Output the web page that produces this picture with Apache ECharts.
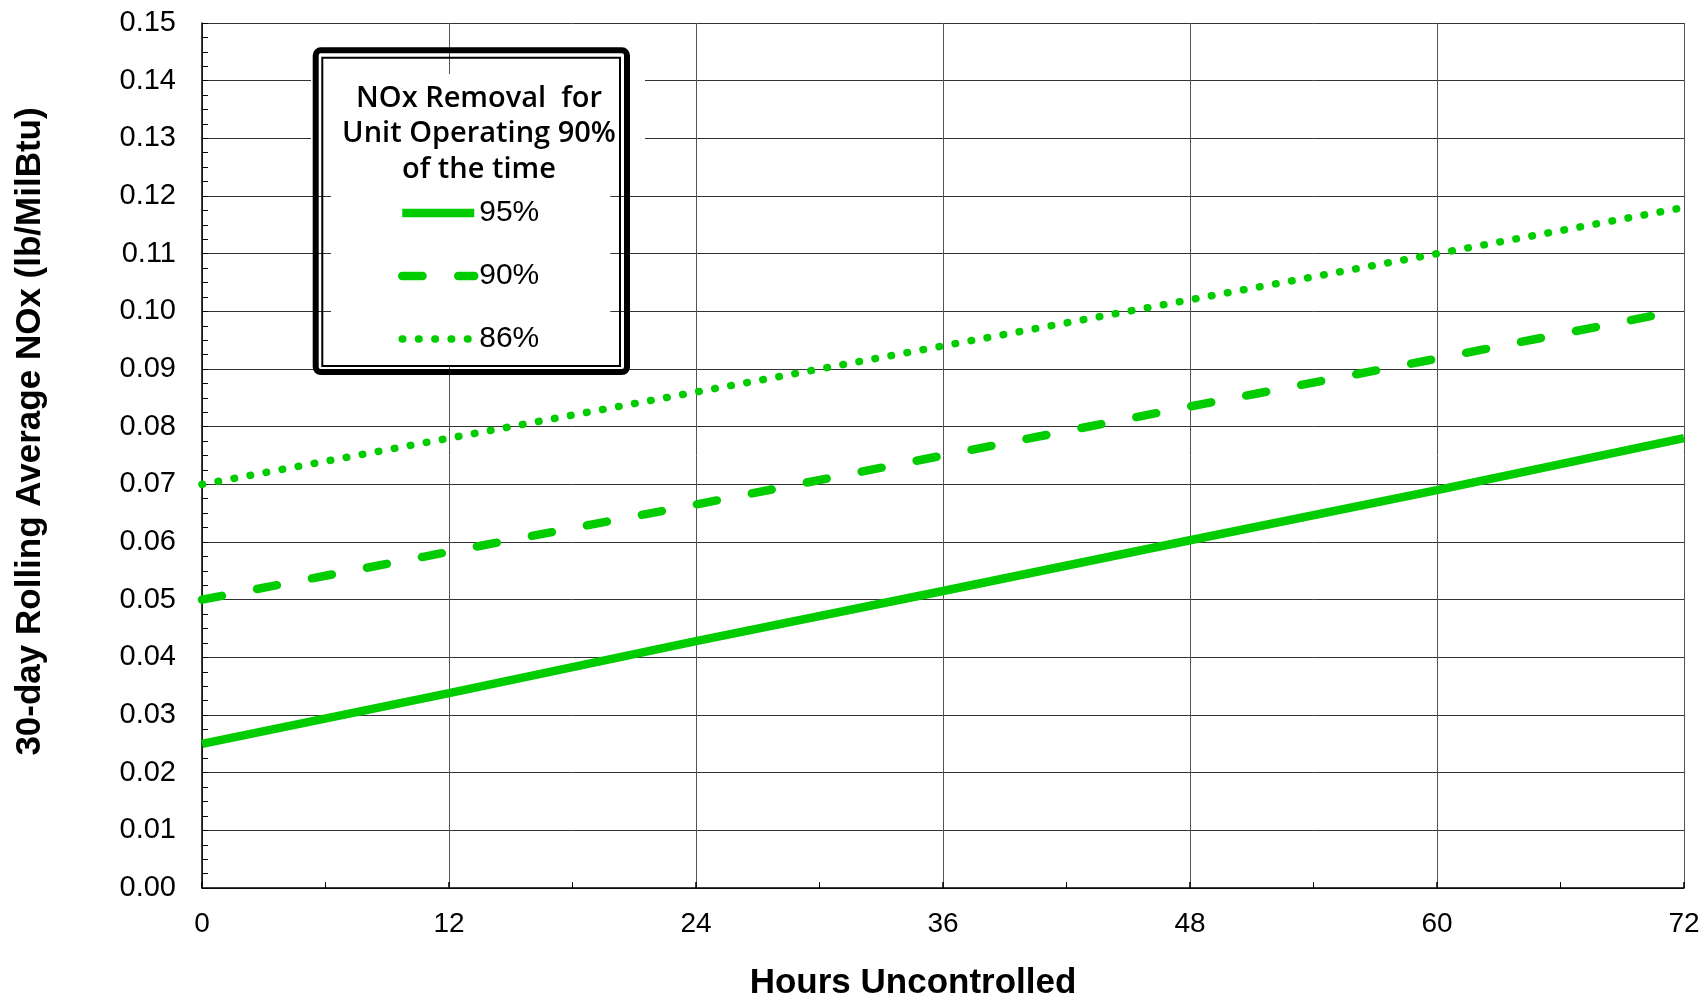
<!DOCTYPE html>
<html>
<head>
<meta charset="utf-8">
<script src="https://cdn.jsdelivr.net/npm/echarts@6/dist/echarts.min.js"></script>
<style>
html,body{margin:0;padding:0;background:#fff;}
#c{width:1706px;height:1006px;}
</style>
</head>
<body>
<div id="c"></div>
<script>
// Data
var hours = [0, 12, 24, 36, 48, 60, 72];
var removal95 = [0.0250, 0.0338, 0.0428, 0.0515, 0.0603, 0.0690, 0.0780];
var removal90 = [0.0500, 0.0583, 0.0665, 0.0750, 0.0835, 0.0918, 0.1003];
var removal86 = [0.0700, 0.0780, 0.0860, 0.0940, 0.1020, 0.1100, 0.1180];
var seriesNames = ['95%', '90%', '86%'];
var legendTitle = ['NOx Removal  for', 'Unit Operating 90%', 'of the time'];
var xTitle = 'Hours Uncontrolled';
var yTitle = '30-day Rolling Average NOx (lb/MilBtu)';

function pairs(xs, ys){ return xs.map(function(x,i){ return [x, ys[i]]; }); }

var green = '#00CC00';
var dashPattern = [20.3, 35.7];
var dotPattern = [0.5, 15.8];
var chart = echarts.init(document.getElementById('c'));
chart.setOption({
  backgroundColor: '#fff',
  animation: false,
  grid: { left: 202, right: 22, top: 23, bottom: 114, containLabel: false },
  xAxis: {
    type: 'value', min: 0, max: 72, interval: 12,
    name: xTitle, nameLocation: 'middle', nameGap: 78,
    nameTextStyle: { fontFamily: 'Liberation Sans, Arial, sans-serif', fontWeight: 'bold', fontSize: 35, color: '#000', padding: [0, 60, 0, 0] },
    axisLine: { show: true, lineStyle: { color: '#000', width: 1.5 } },
    axisTick: { show: true, inside: true, length: 6, lineStyle: { color: '#000', width: 1.5 } },
    minorTick: { show: true, splitNumber: 2, length: 6, lineStyle: { color: '#000', width: 1 } },
    axisLabel: { margin: 22, fontFamily: 'Liberation Sans, Arial, sans-serif', fontSize: 28, color: '#000' },
    splitLine: { show: true, lineStyle: { color: '#555', width: 1 } }
  },
  yAxis: {
    type: 'value', min: 0, max: 0.15, interval: 0.01,
    name: yTitle, nameLocation: 'middle', nameGap: 154, nameRotate: 90,
    nameTextStyle: { fontFamily: 'Liberation Sans, Arial, sans-serif', fontWeight: 'bold', fontSize: 35, color: '#000', padding: [0, 0, 0, 48] },
    axisLine: { show: true, lineStyle: { color: '#000', width: 1.5 } },
    axisTick: { show: true, inside: true, length: 6, lineStyle: { color: '#000', width: 1 } },
    minorTick: { show: true, splitNumber: 4, length: 6, lineStyle: { color: '#000', width: 1 } },
    axisLabel: { margin: 26, fontFamily: 'Liberation Sans, Arial, sans-serif', fontSize: 29, color: '#000',
      formatter: function(v){ return v.toFixed(2); } },
    splitLine: { show: true, lineStyle: { color: '#333', width: 1 } }
  },
  legend: {
    orient: 'vertical', left: 331, top: 180,
    padding: [18, 71, 13, 67],
    backgroundColor: '#fff',
    itemWidth: 72, itemHeight: 14, itemGap: 33,
    itemStyle: { opacity: 0 },
    data: [
      { name: seriesNames[0], lineStyle: { width: 8.5 } },
      { name: seriesNames[1], lineStyle: { width: 8.5 } },
      { name: seriesNames[2], lineStyle: { width: 7.5 } }
    ],
    textStyle: { fontFamily: 'Liberation Sans, Arial, sans-serif', fontSize: 30, color: '#000', lineHeight: 30 },
    selectedMode: false
  },
  graphic: [
    { type: 'rect', z: 100, shape: { x: 311, y: 74, width: 334, height: 106 }, style: { fill: '#fff' } },
    { type: 'text', z: 101, style: { x: 479, y: 80.5, text: legendTitle.join('\n'), textAlign: 'center', textVerticalAlign: 'top',
        font: '600 29px "Open Sans", "DejaVu Sans", sans-serif', lineHeight: 35.5, fill: '#000' } },
    { type: 'rect', z: 102, shape: { x: 315.7, y: 50.3, width: 311.3, height: 321.7, r: 5 }, style: { fill: 'none', stroke: '#000', lineWidth: 6 } },
    { type: 'rect', z: 102, shape: { x: 322.3, y: 57.7, width: 297.7, height: 308.3 }, style: { fill: 'none', stroke: '#000', lineWidth: 2 } }
  ],
  series: [
    { name: seriesNames[0], type: 'line', data: pairs(hours, removal95), showSymbol: false, symbol: 'none',
      lineStyle: { color: green, width: 8.5, type: 'solid', cap: 'butt' }, itemStyle: { color: green } },
    { name: seriesNames[1], type: 'line', data: pairs(hours, removal90), showSymbol: false, symbol: 'none',
      lineStyle: { color: green, width: 8.5, type: dashPattern, cap: 'round' }, itemStyle: { color: green } },
    { name: seriesNames[2], type: 'line', data: pairs(hours, removal86), showSymbol: false, symbol: 'none',
      lineStyle: { color: green, width: 7.5, type: dotPattern, cap: 'round' }, itemStyle: { color: green } }
  ]
});
</script>
</body>
</html>
